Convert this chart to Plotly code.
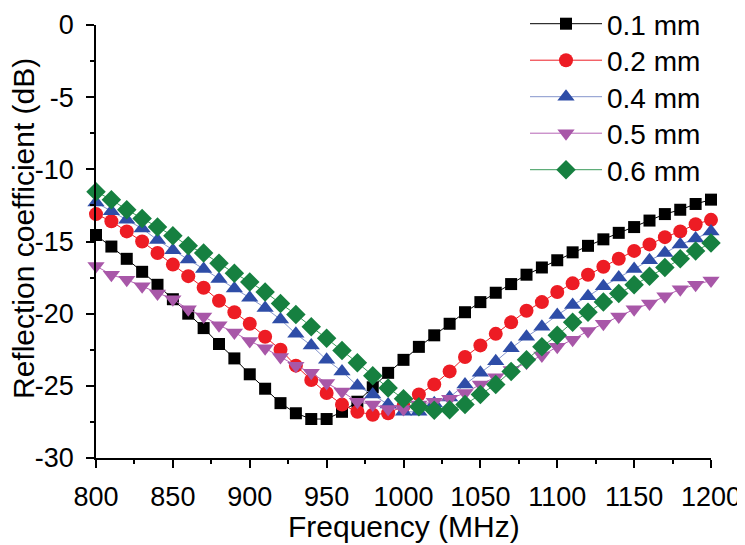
import plotly.graph_objects as go

freq = list(range(800, 1201, 10))

s01 = [-14.55, -15.35, -16.2, -17.1, -18.0, -19.0, -20.0, -21.0, -22.1, -23.1,
       -24.2, -25.2, -26.2, -26.9, -27.3, -27.3, -26.8, -26.1, -25.1, -24.1,
       -23.2, -22.3, -21.5, -20.7, -19.9, -19.2, -18.55, -17.95, -17.3, -16.8,
       -16.3, -15.75, -15.3, -14.85, -14.4, -14.0, -13.55, -13.1, -12.8, -12.4, -12.1]
s02 = [-13.1, -13.6, -14.3, -15.0, -15.8, -16.6, -17.4, -18.2, -19.1, -19.9,
       -20.7, -21.6, -22.5, -23.6, -24.6, -25.5, -26.3, -26.8, -27.0, -26.9,
       -26.4, -25.6, -24.9, -24.0, -23.0, -22.2, -21.4, -20.6, -19.8, -19.2,
       -18.5, -17.9, -17.3, -16.75, -16.2, -15.65, -15.2, -14.7, -14.3, -13.8, -13.5]
s04 = [-12.3, -12.9, -13.5, -14.1, -14.9, -15.6, -16.25, -16.9, -17.6, -18.25,
       -18.9, -19.6, -20.4, -21.4, -22.2, -23.2, -24.0, -25.0, -25.6, -26.3,
       -26.8, -26.8, -26.2, -25.8, -24.9, -24.1, -23.3, -22.4, -21.6, -20.9,
       -20.1, -19.4, -18.8, -18.1, -17.5, -16.9, -16.3, -15.8, -15.2, -14.8, -14.3]
s05 = [-16.7, -17.3, -17.65, -18.1, -18.6, -19.0, -19.7, -20.2, -20.8, -21.3,
       -21.9, -22.4, -23.0, -23.6, -24.1, -24.8, -25.4, -26.1, -26.3, -26.6,
       -26.6, -26.3, -26.1, -25.9, -25.5, -24.9, -24.4, -23.9, -23.4, -22.9,
       -22.3, -21.8, -21.2, -20.7, -20.2, -19.7, -19.3, -18.8, -18.3, -18.0, -17.7]
s06 = [-11.55, -12.1, -12.8, -13.4, -14.0, -14.6, -15.3, -15.8, -16.5, -17.2,
       -17.8, -18.5, -19.3, -20.05, -20.9, -21.7, -22.55, -23.4, -24.3, -25.15,
       -25.9, -26.45, -26.7, -26.65, -26.3, -25.6, -24.9, -24.0, -23.2, -22.3,
       -21.5, -20.6, -19.9, -19.2, -18.6, -18.0, -17.4, -16.8, -16.2, -15.65, -15.1]

x_ticks = [800, 850, 900, 950, 1000, 1050, 1100, 1150, 1200]
x_ticktext = ["800", "850", "900", "950", "1000", "1050", "1100", "1150", "1200"]
y_ticks = [0, -5, -10, -15, -20, -25, -30]
y_ticktext = ["0", "-5", "-10", "-15", "-20", "-25", "-30"]

names = ["0.1 mm", "0.2 mm", "0.4 mm", "0.5 mm", "0.6 mm"]
series = [s01, s02, s04, s05, s06]
symbols = ["square", "circle", "triangle-up", "triangle-down", "diamond"]
msizes = [12, 14, 15, 15, 15]
mcolors = ["#000000", "#ED1C24", "#2E4DA7", "#A857A8", "#168040"]
lcolors = ["#000000", "#ED1C24", "#8595CC", "#B565B5", "#3A9A5A"]

FONT = "Liberation Sans, Arial, sans-serif"
# page has an 8px body margin; figure coords = page coords - 8
W, H = 737, 537
ML, MR, MT, MB = 88, 34, 17, 87
PW = W - ML - MR
PH = H - MT - MB

fig = go.Figure()
legend_layouts = {}
for i, (n, s) in enumerate(zip(names, series)):
    lname = "legend" if i == 0 else f"legend{i+1}"
    fig.add_trace(go.Scatter(
        x=freq, y=s, name=n, mode="lines+markers",
        line=dict(color=lcolors[i], width=1),
        marker=dict(symbol=symbols[i], size=msizes[i], color=mcolors[i], line=dict(width=0)),
        cliponaxis=False, legend=lname,
    ))
    ycenter = 16 + 36.5 * i
    legend_layouts[lname] = dict(
        x=(517 - ML) / PW, xanchor="left",
        y=(H - MB - ycenter) / PH, yanchor="middle",
        font=dict(size=28, family=FONT, color="black"),
        bgcolor="rgba(0,0,0,0)", itemwidth=72,
    )

fig.update_layout(
    width=W, height=H,
    margin=dict(l=ML, r=MR, t=MT, b=MB, autoexpand=False),
    paper_bgcolor="white", plot_bgcolor="white",
    font=dict(family=FONT, size=27, color="black"),
    showlegend=True,
    xaxis=dict(range=[800, 1200], tickmode="array", tickvals=x_ticks, ticktext=x_ticktext,
               showline=True, linecolor="black", linewidth=1.5,
               ticks="outside", ticklen=8, tickwidth=1.5, tickcolor="black",
               minor=dict(ticks="outside", ticklen=4, tickwidth=1.5, dtick=25, tickcolor="black"),
               showgrid=False, zeroline=False, automargin=False, ticklabelstandoff=6),
    yaxis=dict(range=[-30, 0], tickmode="array", tickvals=y_ticks, ticktext=y_ticktext,
               showline=True, linecolor="black", linewidth=1.5,
               ticks="outside", ticklen=8, tickwidth=1.5, tickcolor="black",
               minor=dict(ticks="outside", ticklen=4, tickwidth=1.5, dtick=2.5, tickcolor="black"),
               showgrid=False, zeroline=False, automargin=False, ticklabelstandoff=7),
    annotations=[
        dict(text="Frequency (MHz)", xref="paper", yref="paper",
             x=(396 - ML) / PW, y=(H - MB - 518) / PH, xanchor="center", yanchor="middle",
             showarrow=False, font=dict(size=30, family=FONT, color="black")),
        dict(text="Reflection coefficient (dB)", xref="paper", yref="paper", textangle=-90,
             x=(15 - ML) / PW, y=(H - MB - 221) / PH, xanchor="center", yanchor="middle",
             showarrow=False, font=dict(size=30, family=FONT, color="black")),
    ],
    **legend_layouts,
)

fig.write_html("out.html")
